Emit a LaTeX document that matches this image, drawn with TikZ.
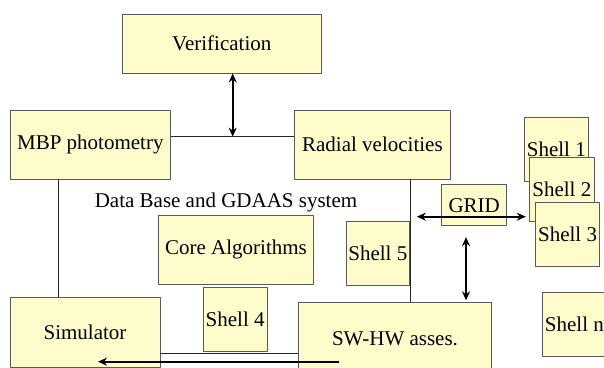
\documentclass[tikz,border=0pt]{standalone}
\usepackage{fontspec}
\setmainfont{Liberation Serif}
\usetikzlibrary{arrows.meta}
\begin{document}
\begin{tikzpicture}[
				x=1pt,y=1pt,line join = round,>={Stealth[length=9pt,width=8pt]},inner sep = 1pt,
				font=\rmfamily\fontsize{21}{24}\selectfont,
				hcnvang/.style={rectangle,draw = black!65,fill = yellow!20,line width=0.8pt},
				duongmanh/.style={draw = black!85,line width=0.8pt},
				muiten/.style={<->,line width=2.2pt}]
				\useasboundingbox (0,0) rectangle (604,367);
				\node at (221.8,323.3) (nodeVer) [hcnvang,minimum width=198.5,minimum height=58.7] {Verification};
				\node at (90.3,222.5) (nodeMBP) [hcnvang,minimum width=160.6,minimum height=69] {MBP photometry};
				\node at (372.4,222.5) (nodeRV) [hcnvang,minimum width=155.3,minimum height=69] {Radial velocities};
				\node at (556.3,218) (nodeSa) [hcnvang,minimum width=64.6,minimum height=64] {Shell 1};
				\node at (561.8,178) (nodeSb) [hcnvang,minimum width=64.4,minimum height=64] {Shell 2};
				\node at (567.6,132.3) (nodeSc) [hcnvang,minimum width=64.4,minimum height=64] {Shell 3};
				\node at (474.2,161.8) (nodeGrid) [hcnvang,minimum width=64.7,minimum height=41] {GRID};
				\node at (226,165) (nodeDB) {Data Base and GDAAS system};
				\node at (236,117.1) (nodeCore) [hcnvang,minimum width=155.3,minimum height=69.7] {Core Algorithms};
				\node at (377.8,113.3) (nodeSe) [hcnvang,minimum width=63.5,minimum height=64] {Shell 5};
				\node at (235.2,47.8) (nodeSd) [hcnvang,minimum width=64.3,minimum height=63.7] {Shell 4};
				\node at (85,34.7) (nodeSim) [hcnvang,minimum width=150,minimum height=70] {Simulator};
				\node at (395,28.3) (nodeSW) [hcnvang,minimum width=193,minimum height=72] {SW-HW asses.};
				\node at (574.4,42.3) (nodeSn) [hcnvang,minimum width=64,minimum height=64] {Shell n};
				% diem phu
				\coordinate (nodeJ) at (232.7,230.3);
				\coordinate (nodeL) at (58.5,0);
				\coordinate (nodeR) at (410,0);
				\coordinate (nodeGl) at (416.8,150.3);
				\coordinate (nodeGr) at (525.8,150.3);
				\coordinate (nodeV) at (466,0);
				\coordinate (nodeTa) at (339,5.3);
				\coordinate (nodeTb) at (98,5.3);
				% duong noi
				\draw[duongmanh] (nodeJ -| nodeMBP.east) to (nodeJ -| nodeRV.west);
				\draw[duongmanh] (nodeL |- nodeMBP.south) to (nodeL |- nodeSim.north);
				\draw[duongmanh] (nodeR |- nodeRV.south) to (nodeR |- nodeSW.north);
				\draw[duongmanh] ([yshift=-21]nodeSim.east) to ([yshift=-21]nodeSim.east -| nodeSW.west);
				\draw[muiten] (nodeJ |- nodeVer.south) to (nodeJ);
				\draw[muiten] (nodeGl) to (nodeGr);
				\draw[muiten,shorten <=11pt,shorten >=2pt] (nodeV |- nodeGrid.south) to (nodeV |- nodeSW.north);
				\draw[->,line width=2.2pt] (nodeTa) to (nodeTb);
			\end{tikzpicture}
\end{document}
